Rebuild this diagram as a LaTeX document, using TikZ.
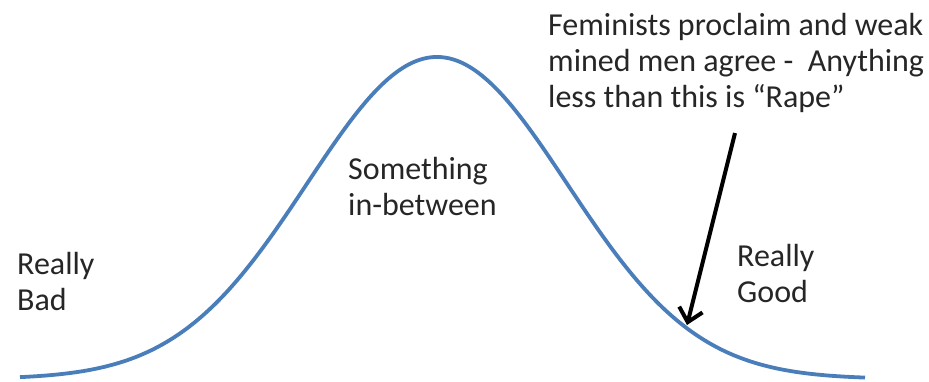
\documentclass[tikz,border=0pt]{standalone}
\usepackage{fontspec}
\setmainfont{Carlito}
\usetikzlibrary{arrows.meta}
\definecolor{curveblue}{HTML}{4A7EBB}
\definecolor{txt}{HTML}{262626}
\tikzset{
  lbl/.style={anchor=base west, inner sep=0pt, align=left, text=txt,
    font=\fontsize{32}{36}\selectfont},
  bell/.style={curveblue, line width=3.8pt},
  pointer/.style={black, line width=4pt, -{Straight Barb[length=13pt,width=24pt,line width=4pt]}}
}
\begin{document}
\begin{tikzpicture}[x=1pt,y=-1pt]
\useasboundingbox (0,0) rectangle (929,381);
\fill[white] (0,0) rectangle (929,381);
\draw[bell] plot[domain=20:865, samples=200, smooth] (\x,{379-322*exp(-0.5*((\x-437)/130)^2)});
\node[lbl] (fem) at (548,107) {Feminists proclaim and weak\\mined men agree -\ \ Anything\\less than this is “Rape”};
\node[lbl] (mid) at (348,215) {Something\\in-between};
\node[lbl] (bad) at (17,310) {Really\\Bad};
\node[lbl] (good) at (737,302) {Really\\Good};
\coordinate (astart) at (735,133);
\coordinate (atip) at (687,325);
\draw[pointer] (astart) -- (atip);
\end{tikzpicture}
\end{document}
